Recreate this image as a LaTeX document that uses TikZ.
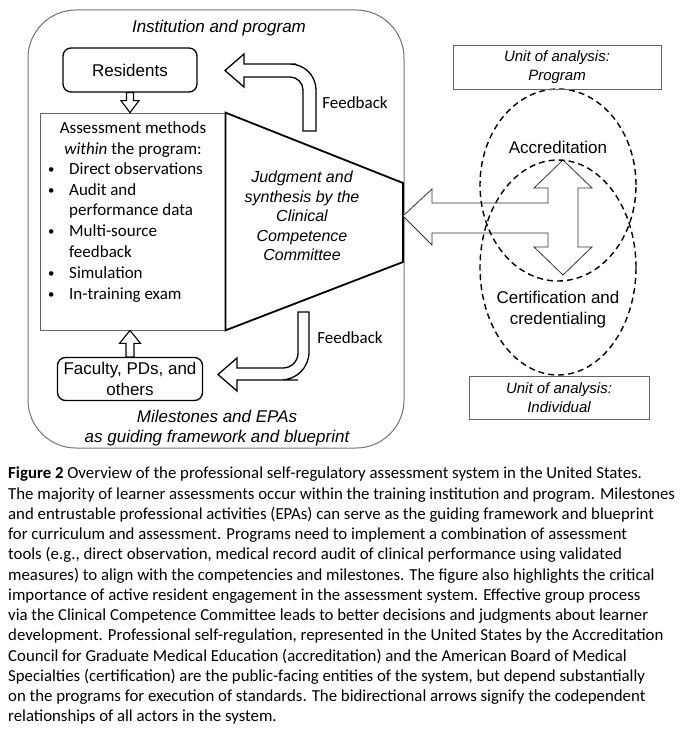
\documentclass[tikz,border=0pt]{standalone}
\usepackage{fontspec}
\setmainfont{Liberation Sans}
\newfontfamily\calfont{Carlito}
\newfontfamily\capfont{Carlito}
\usetikzlibrary{positioning,calc,shapes.geometric}

\tikzset{
  lbl/.style={font=\fontsize{17}{20.5}\selectfont, align=center, inner sep=0pt},
  ital/.style={font=\fontsize{17}{20}\selectfont\itshape, align=center, inner sep=0pt},
  actor/.style={draw, line width=1.3pt, rounded corners=8pt, inner sep=0pt, lbl},
  unitbox/.style={draw=black!60, line width=0.7pt, inner sep=0pt, align=center,
    font=\fontsize{15}{19}\selectfont\itshape},
  fback/.style={draw, line width=1.3pt, fill=white, line join=miter},
  blockarrow/.style={draw=black!80, line width=0.8pt, fill=white},
  unitoval/.style={ellipse, draw, dash pattern=on 6pt off 4pt, line width=1.4pt, inner sep=0pt},
  fbtext/.style={font=\calfont\fontsize{17}{20}\selectfont, inner sep=0pt},
}
\newcommand{\dotitem}{\raisebox{1pt}{\scalebox{0.75}{\textbullet}}}

\begin{document}
\begin{tikzpicture}[x=1pt,y=-1pt]
\useasboundingbox (0,0) rectangle (683,730);

% institution frame
\node[draw=black!55, line width=1pt, rounded corners=48pt, inner sep=0pt,
  minimum width=376pt, minimum height=438pt] (inst) at (216,229) {};
\node[ital] (insttitle) at (219,28) {Institution and program};
\node[ital] (blueprint) at (217,428) {Milestones and EPAs\\as guiding framework and blueprint};

% actors
\node[actor, minimum width=134pt, minimum height=44pt] (res) at (130,70) {Residents};
\node[actor, minimum width=145pt, minimum height=43pt] (fac) at (130,379) {Faculty, PDs, and\\others};

% assessment methods
\node[draw=black!60, line width=0.8pt, inner sep=0pt,
  minimum width=185pt, minimum height=217pt] (assess) at (132.5,221.5) {};
\node[font=\calfont\fontsize{17}{20.8}\selectfont, align=center, inner sep=0pt]
  (methodshead) at (133,139.5) {Assessment methods\\\textit{within} the program:};
\node[font=\calfont\fontsize{17}{20.8}\selectfont, inner sep=0pt, anchor=west]
  (methodslist) at (48,232.5) {%
  \begin{tabular}{@{}p{21pt}@{}l@{}}
  \dotitem & Direct observations\\
  \dotitem & Audit and\\
   & performance data\\
  \dotitem & Multi-source\\
   & feedback\\
  \dotitem & Simulation\\
  \dotitem & In-training exam
  \end{tabular}};

% clinical competence committee
\coordinate (ccctop) at (403,183);
\coordinate (cccbot) at (403,262);
\draw[line width=1.8pt, line join=miter] (assess.north east) -- (ccctop) -- (cccbot) -- (assess.south east) -- cycle;
\node[font=\fontsize{16}{19.5}\selectfont\itshape, align=center, inner sep=0pt]
  (ccc) at (302,216) {Judgment and\\synthesis by the\\Clinical\\Competence\\Committee};

% small block arrows
\draw[fback, line width=1.1pt] ($(res.south)+(-3.5,0)$) -- ($(res.south |- assess.north)+(-3.5,-12)$)
  -- ($(res.south |- assess.north)+(-9,-12)$) -- (res.south |- assess.north)
  -- ($(res.south |- assess.north)+(9,-12)$) -- ($(res.south |- assess.north)+(3.5,-12)$)
  -- ($(res.south)+(3.5,0)$) -- cycle;
\draw[fback, line width=1.1pt] ($(fac.north)+(-4,0)$) -- ($(fac.north |- assess.south)+(-4,13)$)
  -- ($(fac.north |- assess.south)+(-10.5,13)$) -- (fac.north |- assess.south)
  -- ($(fac.north |- assess.south)+(10.5,13)$) -- ($(fac.north |- assess.south)+(4,13)$)
  -- ($(fac.north)+(4,0)$) -- cycle;

% feedback arrows
\draw[fback] (303,131) -- (316,131) -- (316,110) [rounded corners=26pt] -- (316,64) -- (270,64)
  [sharp corners] -- (244,64) -- (244,54) -- (225,70.5) -- (244,87) -- (244,77) -- (265,77)
  [rounded corners=13pt] -- (303,77) -- (303,105) [sharp corners] -- cycle;
\node[fbtext] (fbtop) at (355,103) {Feedback};
\draw[fback] (298,312) -- (309,312) -- (309,340) [rounded corners=28pt] -- (309,380) -- (270,380)
  [sharp corners] -- (237,380) -- (237,391) -- (218,374.5) -- (237,358) -- (237,368) -- (260,368)
  [rounded corners=15pt] -- (298,368) -- (298,340) [sharp corners] -- cycle;
\node[fbtext] (fbbot) at (350,338) {Feedback};

% accreditation / certification
\draw[blockarrow, line join=miter] (563,160) -- (592,188) -- (578,188) -- (578,247) -- (592,247)
  -- (563,275) -- (534,247) -- (548,247) -- (548,233) -- (432,233) -- (432,245) -- (cccbot |- ccc)
  -- (432,189) -- (432,203) -- (548,203) -- (548,188) -- (534,188) -- cycle;
\node[unitoval, minimum width=156pt, minimum height=192pt] (acc) at (558,185) {};
\node[unitoval, minimum width=156pt, minimum height=215pt] (cert) at (558,267.5) {};
\node[lbl] (acctext) at (558,147) {Accreditation};
\node[lbl] (certtext) at (558,309.5) {Certification and\\credentialing};
\node[unitbox, minimum width=208pt, minimum height=44pt] (unitprog) at (557,67) {Unit of analysis:\\Program};
\node[unitbox, minimum width=180pt, minimum height=43pt] (unitind) at (559,397.5) {Unit of analysis:\\Individual};

% caption
\node[font=\capfont\fontsize{16.8}{20.25}\selectfont, align=left, inner sep=0pt, anchor=north west]
  (caption) at (8,467) {%
\textbf{Figure 2} Overview of the professional self-regulatory assessment system in the United States.\\
The majority of learner assessments occur within the training institution and program. Milestones\\
and entrustable professional activities (EPAs) can serve as the guiding framework and blueprint\\
for curriculum and assessment. Programs need to implement a combination of assessment\\
tools (e.g., direct observation, medical record audit of clinical performance using validated\\
measures) to align with the competencies and milestones. The figure also highlights the critical\\
importance of active resident engagement in the assessment system. Effective group process\\
via the Clinical Competence Committee leads to better decisions and judgments about learner\\
development. Professional self-regulation, represented in the United States by the Accreditation\\
Council for Graduate Medical Education (accreditation) and the American Board of Medical\\
Specialties (certification) are the public-facing entities of the system, but depend substantially\\
on the programs for execution of standards. The bidirectional arrows signify the codependent\\
relationships of all actors in the system.};
\end{tikzpicture}
\end{document}
